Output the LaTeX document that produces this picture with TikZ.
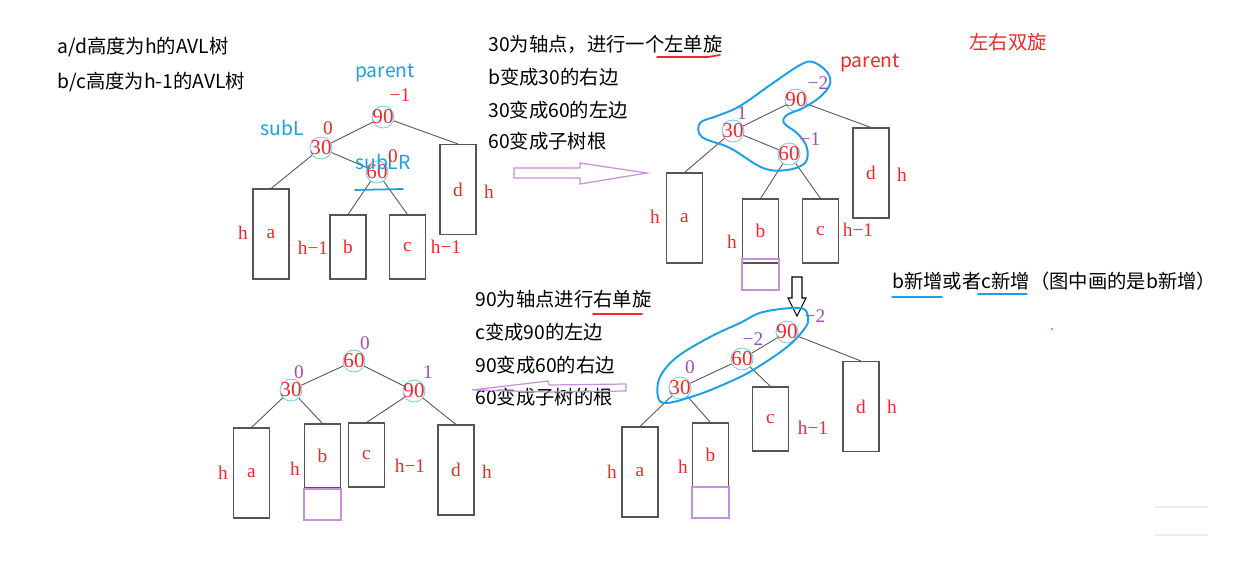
\documentclass[tikz,border=0pt]{standalone}
\usepackage{fontspec}
\usepackage{xcolor}
\usetikzlibrary{arrows.meta}
\setmainfont{Liberation Serif}
\newfontfamily\cjk{Noto Sans CJK SC}
\definecolor{nred}{HTML}{F02828}
\definecolor{nblue}{HTML}{1AA0E6}
\definecolor{cblue}{HTML}{78CCF0}
\definecolor{npurple}{HTML}{A24CC0}
\definecolor{lpurple}{HTML}{C890D8}
\definecolor{edgegray}{HTML}{555555}
\newcommand{\numfont}{\fontsize{12}{12}\selectfont}
\newcommand{\lblfont}{\fontsize{11}{11}\selectfont}
\newcommand{\txtfont}{\cjk\fontsize{11}{13}\selectfont}

\begin{document}
\begin{tikzpicture}[
    x=0.02cm, y=-0.02cm,
    knode/.style={circle, draw=cblue, line width=0.5pt, minimum size=4.4mm, inner sep=0pt,
                  label={[text=nred, font=\numfont, inner sep=0pt]center:{#1}}},
    tallbox/.style={draw=edgegray, line width=0.6pt, minimum width=7.2mm, minimum height=18mm,
                    inner sep=0pt, text=nred, font=\lblfont},
    shortbox/.style={tallbox, minimum height=12.8mm},
    addbox/.style={draw=lpurple, line width=0.6pt, minimum width=7.4mm, minimum height=6.2mm, inner sep=0pt},
    lbl/.style={text=nred, font=\lblfont, inner sep=0pt},
    bal/.style={text=npurple, font=\lblfont, inner sep=0pt},
    ptr/.style={text=nblue, font=\txtfont, inner sep=0pt},
    txt/.style={font=\txtfont, anchor=west, inner sep=0pt},
    link/.style={draw=edgegray, line width=0.5pt},
    lasso/.style={draw=nblue, line width=1.1pt, smooth cycle, tension=0.6},
    uline/.style={line width=1pt, line cap=round}
  ]
    \useasboundingbox (0,0) rectangle (1254,566);

    % notes on the left
    \node[txt] (n1) at (57,47) {a/d高度为h的AVL树};
    \node[txt] (n2) at (57,82) {b/c高度为h-1的AVL树};

    % tree before rotation
    \node[knode=90] (tl90) at (383,117) {};
    \node[knode=30] (tl30) at (321,148) {};
    \node[knode=60] (tl60) at (377,172) {};
    \node[tallbox] (tla) at (271,234) {a};
    \node[shortbox] (tlb) at (348,247) {b};
    \node[shortbox] (tlc) at (407.5,247) {c};
    \node[tallbox] (tld) at (458,189.5) {d};
    \draw[link] (tl90)--(tl30);  \draw[link] (tl90)--(tld.north);
    \draw[link] (tl30)--(tla.north);  \draw[link] (tl30)--(tl60);
    \draw[link] (tl60)--(tlb.north);  \draw[link] (tl60)--(tlc.north);
    \node[ptr] (tlp) at (385,73) {parent};
    \node[ptr] (tll) at (282,128) {subL};
    \node[ptr] (tllr) at (383,162) {subLR};
    \node[lbl] (tlf90) at (400,95) {−1};
    \node[lbl] (tlf30) at (328,128) {0};
    \node[lbl] (tlf60) at (393,156) {0};
    \draw[nblue, uline] (355,190)--(403,189);
    \node[lbl] (tlha) at (243,233) {h};
    \node[lbl] (tlhb) at (313,248) {h−1};
    \node[lbl] (tlhc) at (446,247) {h−1};
    \node[lbl] (tlhd) at (489,192) {h};

    % first step: left rotation
    \node[txt] (s1) at (488,44) {30为轴点，进行一个左单旋};
    \node[txt] (s2) at (488,77) {b变成30的右边};
    \node[txt] (s3) at (488,110) {30变成60的左边};
    \node[txt] (s4) at (488,141) {60变成子树根};
    \draw[nred, uline] (657,57) -- (708,57) -- (720,55);
    \draw[lpurple, line width=0.7pt] (514,168) -- (580,168) -- (580,163) -- (647,173)
      -- (580,184) -- (580,178) -- (514,178) -- cycle;

    % tree after left rotation
    \node[knode=90] (tr90) at (796,100) {};
    \node[knode=30] (tr30) at (733,131) {};
    \node[knode=60] (tr60) at (789,154) {};
    \node[tallbox] (tra) at (684.5,218) {a};
    \node[shortbox] (trb) at (760.5,231) {b};
    \node[addbox] (trx) at (760.5,274.5) {};
    \node[shortbox] (trc) at (820.5,231) {c};
    \node[tallbox] (trd) at (871,173) {d};
    \draw[link] (tr90)--(tr30);  \draw[link] (tr90)--(trd.north);
    \draw[link] (tr30)--(tra.north);  \draw[link] (tr30)--(tr60);
    \draw[link] (tr60)--(trb.north);  \draw[link] (tr60)--(trc.north);
    \draw[lasso] plot coordinates {(813,62) (827,72) (830,84) (820,97) (803,108) (787,115)
      (784,123) (798,134) (807,148) (805,163) (787,170) (763,168) (730,148) (702,137)
      (700,123) (717,116) (740,106) (773,83) (800,65)};
    \node[text=nred, font=\txtfont, inner sep=0pt] (trp) at (870,63) {parent};
    \node[bal] (trf90) at (818,83) {−2};
    \node[bal] (trf30) at (742,113) {1};
    \node[bal] (trf60) at (810,139) {−1};
    \node[lbl] (trha) at (655,217) {h};
    \node[lbl] (trhb) at (732,242) {h};
    \node[lbl] (trhc) at (858,230) {h−1};
    \node[lbl] (trhd) at (902,175) {h};

    % side notes
    \node[text=nred, font=\txtfont, inner sep=0pt] (dbl) at (1008,42) {左右双旋};
    \node[txt] (nb) at (892,281) {b新增或者c新增（图中画的是b新增）};
    \draw[nblue, uline] (892,297) -- (942,297);
    \draw[nblue, uline] (978,294) -- (1027,294);
    \fill[nblue] (1052,329) circle (1.2);
    \draw[gray!15, line width=1pt] (1155,507) -- (1208,507);
    \draw[gray!15, line width=1pt] (1155,535) -- (1208,535);

    % down arrow
    \draw[black, line width=0.6pt] (792,277) -- (802,277) -- (802,298) -- (806,298) -- (797,316)
      -- (788,298) -- (792,298) -- cycle;

    % tree before right rotation
    \node[knode=90] (br90) at (787,332) {};
    \node[knode=60] (br60) at (742,359) {};
    \node[knode=30] (br30) at (680,388) {};
    \node[tallbox] (bra) at (640,472) {a};
    \node[shortbox] (brb) at (710.5,455) {b};
    \node[addbox] (brx) at (710.5,502.5) {};
    \node[shortbox] (brc) at (770.5,419) {c};
    \node[tallbox] (brd) at (861,406.5) {d};
    \draw[link] (br90)--(br60);  \draw[link] (br90)--(brd.north);
    \draw[link] (br60)--(br30);  \draw[link] (br60)--(brc.north);
    \draw[link] (br30)--(bra.north);  \draw[link] (br30)--(brb.north);
    \draw[lasso] plot coordinates {(763,312) (800,308) (808,317) (805,328) (787,347)
      (753,370) (727,383) (697,395) (667,403) (658,397) (660,377) (677,357) (710,337) (740,323)};
    \node[bal] (brf90) at (815,316) {−2};
    \node[bal] (brf60) at (753,339) {−2};
    \node[bal] (brf30) at (690,367) {0};
    \node[lbl] (brha) at (612,472) {h};
    \node[lbl] (brhb) at (683,467) {h};
    \node[lbl] (brhc) at (813,428) {h−1};
    \node[lbl] (brhd) at (892,407) {h};

    % second step: right rotation
    \node[txt] (r1) at (475,299) {90为轴点进行右单旋};
    \node[txt] (r2) at (475,332) {c变成90的左边};
    \node[txt] (r3) at (475,365) {90变成60的右边};
    \node[txt] (r4) at (475,397) {60变成子树的根};
    \draw[nred, uline] (593,314) -- (642,314);
    \draw[lpurple, line width=0.7pt] (472,390) -- (548,381) -- (549,385) -- (626,384)
      -- (626,391) -- (549,392) -- cycle;

    % balanced tree
    \node[knode=60] (bl60) at (354,361) {};
    \node[knode=30] (bl30) at (291,390) {};
    \node[knode=90] (bl90) at (414,391) {};
    \node[tallbox] (bla) at (251.5,473) {a};
    \node[shortbox] (blb) at (322.5,456) {b};
    \node[addbox] (blx) at (322.5,504.5) {};
    \node[shortbox] (blc) at (366.5,455) {c};
    \node[tallbox] (bld) at (456,470) {d};
    \draw[link] (bl60)--(bl30);  \draw[link] (bl60)--(bl90);
    \draw[link] (bl30)--(bla.north);  \draw[link] (bl30)--(blb.north);
    \draw[link] (bl90)--(blc.north);  \draw[link] (bl90)--(bld.north);
    \node[bal] (blf60) at (365,343) {0};
    \node[bal] (blf30) at (299,372) {0};
    \node[bal] (blf90) at (428,372) {1};
    \node[lbl] (blha) at (223,473) {h};
    \node[lbl] (blhb) at (295,469) {h};
    \node[lbl] (blhc) at (410,466) {h−1};
    \node[lbl] (blhd) at (487,472) {h};
  \end{tikzpicture}
\end{document}
